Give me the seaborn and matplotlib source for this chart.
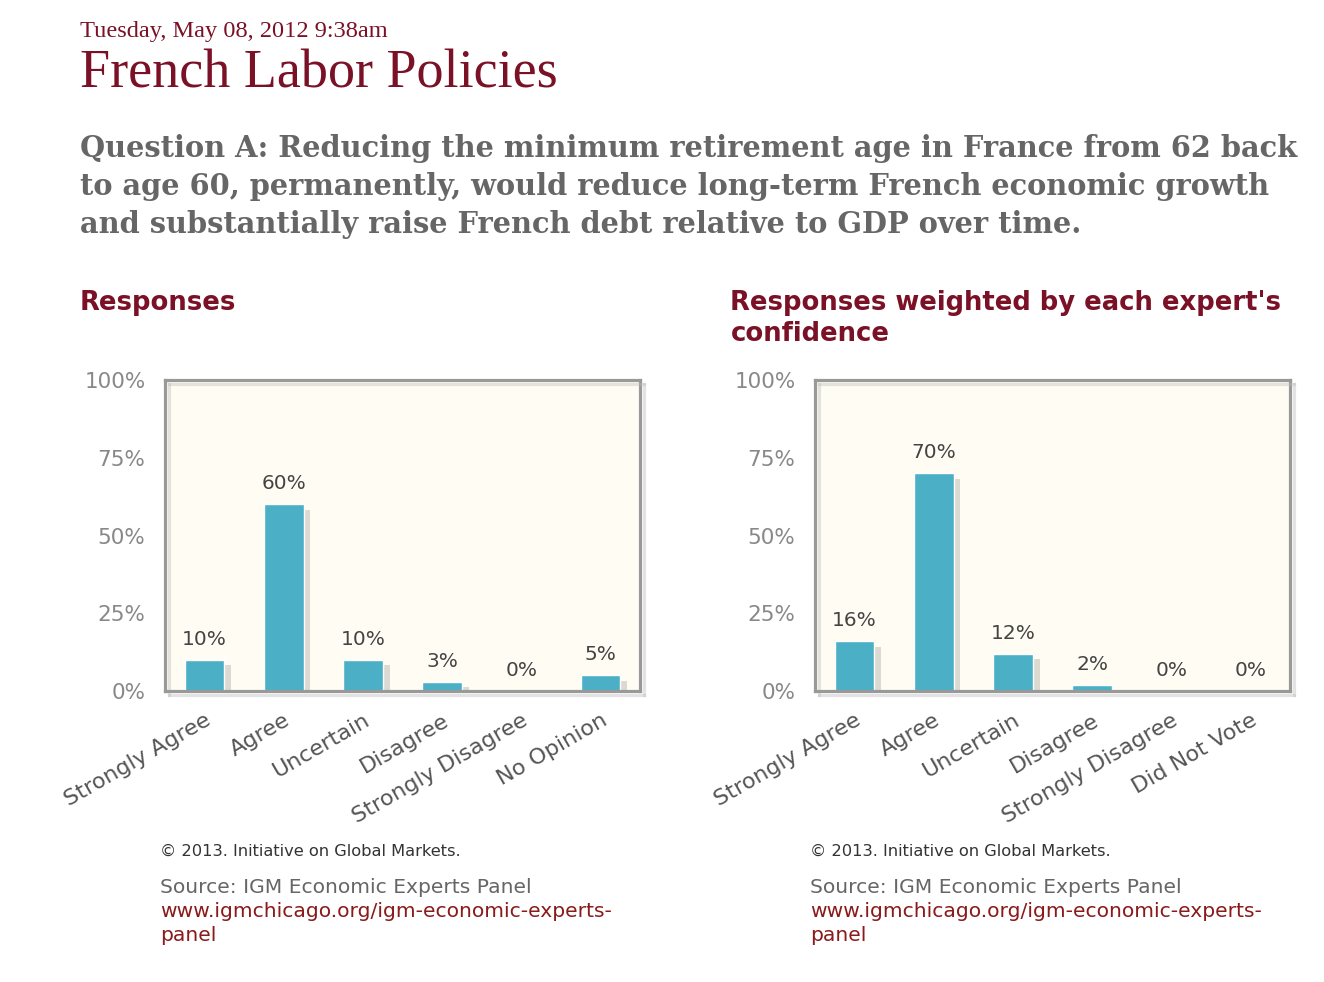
import matplotlib
matplotlib.use("Agg")
import matplotlib.pyplot as plt
import matplotlib.patheffects as pe
import seaborn as sns

# data
cats_left = ["Strongly Agree", "Agree", "Uncertain", "Disagree", "Strongly Disagree", "No Opinion"]
vals_left = [10, 60, 10, 3, 0, 5]
cats_right = ["Strongly Agree", "Agree", "Uncertain", "Disagree", "Strongly Disagree", "Did Not Vote"]
vals_right = [16, 70, 12, 2, 0, 0]
yticks = [0, 25, 50, 75, 100]

RED = "#7a1126"
BAR = "#4bb0c6"
GRAY = "#666666"

sns.set_style("white")
plt.rcParams["font.family"] = ["DejaVu Sans"]

fig = plt.figure(figsize=(13.24, 9.82), dpi=100)
fig.patch.set_facecolor("white")

# header text
fig.text(80 / 1324, 1 - 37 / 982, "Tuesday, May 08, 2012 9:38am", family="Liberation Serif",
         fontsize=17.6, color=RED, ha="left", va="baseline")
fig.text(80 / 1324, 1 - 87 / 982, "French Labor Policies", family="Liberation Serif",
         fontsize=39, color=RED, ha="left", va="baseline")
question = ["Question A: Reducing the minimum retirement age in France from 62 back",
            "to age 60, permanently, would reduce long-term French economic growth",
            "and substantially raise French debt relative to GDP over time."]
for i, line in enumerate(question):
    fig.text(80 / 1324, 1 - (157 + 38 * i) / 982, line, family="DejaVu Serif",
             fontweight="bold", fontsize=20.8, color=GRAY, ha="left", va="baseline")


def panel(x0, cats, vals, heading):
    ax = fig.add_axes([x0 / 1324, 1 - 691 / 982, 475 / 1324, 311 / 982])
    ax.set_facecolor("#fffcf3")
    sns.barplot(x=cats, y=vals, color=BAR, width=0.5, saturation=1, ax=ax)
    for p in ax.patches:
        p.set_path_effects([pe.SimplePatchShadow(offset=(5, -4), shadow_rgbFace="#888888", alpha=0.3),
                            pe.Normal()])
    for i, v in enumerate(vals):
        ax.annotate(f"{v}%", (i, v), xytext=(0, 8), textcoords="offset points",
                    ha="center", va="bottom", fontsize=14.5, color="#444444")
    ax.set_xlim(-0.5, len(cats) - 0.5)
    ax.set_ylim(0, 100)
    ax.set_yticks(yticks)
    ax.set_yticklabels([f"{t}%" for t in yticks], fontsize=15.5, color="#888888")
    ax.tick_params(axis="y", length=0, pad=14)
    ax.tick_params(axis="x", length=0, pad=14)
    ax.set_xticks(range(len(cats)))
    ax.set_xticklabels(cats, rotation=30, ha="right", rotation_mode="anchor",
                       fontsize=16, color="#555555")
    for s in ax.spines.values():
        s.set_visible(True)
        s.set_color("#999999")
        s.set_linewidth(2.3)
        s.set_path_effects([pe.SimpleLineShadow(offset=(3, -3), shadow_color="#bbbbbb", alpha=0.4),
                            pe.Normal()])
    ax.grid(False)
    fig.text((x0 - 85) / 1324, 1 - 310 / 982, heading, fontsize=18.6, fontweight="bold",
             color=RED, ha="left", va="baseline")
    fig.text((x0 - 5) / 1324, 1 - 856 / 982, "\u00a9 2013. Initiative on Global Markets.",
             fontsize=11.7, color="#333333", ha="left", va="baseline")
    fig.text((x0 - 5) / 1324, 1 - 893 / 982, "Source: IGM Economic Experts Panel",
             fontsize=14.6, color=GRAY, ha="left", va="baseline")
    fig.text((x0 - 5) / 1324, 1 - 917 / 982, "www.igmchicago.org/igm-economic-experts-",
             fontsize=14.6, color="#8b1a1a", ha="left", va="baseline")
    fig.text((x0 - 5) / 1324, 1 - 941 / 982, "panel",
             fontsize=14.6, color="#8b1a1a", ha="left", va="baseline")
    return ax


panel(165, cats_left, vals_left, "Responses")
panel(815, cats_right, vals_right, "Responses weighted by each expert's")
fig.text(731 / 1324, 1 - 341 / 982, "confidence", fontsize=18.6, fontweight="bold",
         color=RED, ha="left", va="baseline")

fig.savefig("out.png", dpi=100)
